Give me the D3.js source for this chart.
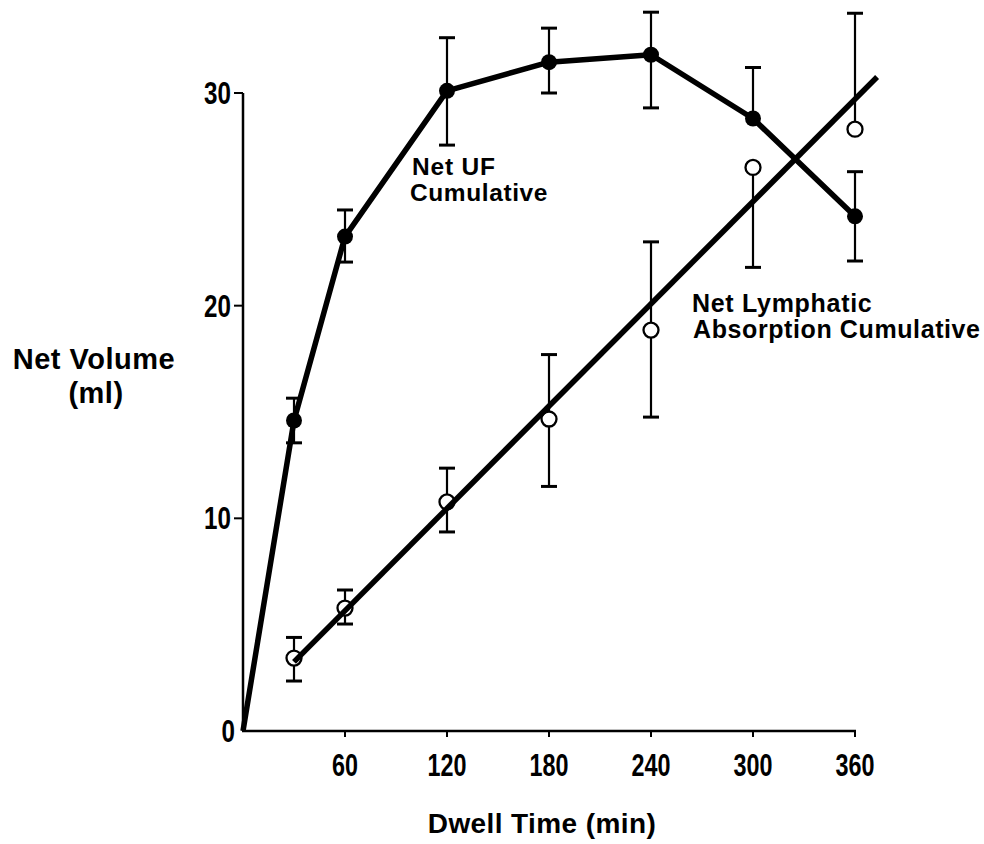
<!DOCTYPE html>
<html>
<head>
<meta charset="utf-8">
<script src="https://cdn.jsdelivr.net/npm/d3@7/dist/d3.min.js"></script>
<style>
  html, body { margin: 0; padding: 0; background: #fff; }
  svg { display: block; }
  text { font-family: "Liberation Sans", Arial, Helvetica, sans-serif; font-weight: bold; fill: #000; }
</style>
</head>
<body>
<svg id="chart" width="984" height="844"></svg>
<script>
// ---- data ----
const times = [30, 60, 120, 180, 240, 300, 360];
const ufMean = [14.6, 23.25, 30.1, 31.45, 31.8, 28.8, 24.2];
const ufHigh = [15.65, 24.5, 32.6, 33.05, 33.8, 31.2, 26.3];
const ufLow  = [13.55, 22.05, 27.55, 30.0, 29.3, 28.8, 22.1];
const ufOrigin = [0, 0];

const lymphMean = [3.43, 5.78, 10.77, 14.67, 18.85, 26.5, 28.3];
const lymphHigh = [4.4, 6.63, 12.36, 17.7, 23.0, 26.5, 33.75];
const lymphLow  = [2.35, 5.03, 9.36, 11.5, 14.76, 21.8, 28.3];
const lymphFitX = [30, 373];
const lymphFitY = [3.25, 30.75];

const xTicks = [60, 120, 180, 240, 300, 360];
const yTicks = [0, 10, 20, 30];

// ---- scales ----
const svg = d3.select("#chart");
const x = d3.scaleLinear().domain([0, 360]).range([243, 855]);
const y = d3.scaleLinear().domain([0, 30]).range([731, 93]);

// condensed text helper
function condText(g, tx, ty, str, size, anchor, sx) {
  g.append("text")
    .attr("transform", `translate(${tx},${ty}) scale(${sx},1)`)
    .attr("text-anchor", anchor)
    .attr("font-size", size)
    .text(str);
}

// ---- axes ----
const axes = svg.append("g");
axes.append("line")
  .attr("x1", x(0)).attr("x2", x(0))
  .attr("y1", y(0)).attr("y2", y(30))
  .attr("stroke", "#000").attr("stroke-width", 2.5);
axes.append("line")
  .attr("x1", x(0) - 1).attr("x2", x(360) + 1)
  .attr("y1", y(0)).attr("y2", y(0))
  .attr("stroke", "#000").attr("stroke-width", 2.5);

// y ticks
yTicks.forEach(v => {
  if (v !== 0) {
    axes.append("line")
      .attr("x1", x(0) - 9).attr("x2", x(0))
      .attr("y1", y(v)).attr("y2", y(v))
      .attr("stroke", "#000").attr("stroke-width", 2);
  }
  condText(axes, v === 0 ? x(0) - 8 : x(0) - 12, y(v) + 11, String(v), 31, "end", 0.78);
});

// x ticks
xTicks.forEach(v => {
  axes.append("line")
    .attr("x1", x(v)).attr("x2", x(v))
    .attr("y1", y(0)).attr("y2", y(0) + 6)
    .attr("stroke", "#000").attr("stroke-width", 2);
  condText(axes, x(v), 776, String(v), 32, "middle", 0.73);
});

// axis titles
svg.append("text").attr("x", 94).attr("y", 369).attr("text-anchor", "middle")
  .attr("font-size", 29).attr("letter-spacing", 0.5).text("Net Volume");
svg.append("text").attr("x", 96).attr("y", 403).attr("text-anchor", "middle")
  .attr("font-size", 29).attr("letter-spacing", 0.5).text("(ml)");
svg.append("text").attr("x", 542).attr("y", 833).attr("text-anchor", "middle")
  .attr("font-size", 28).attr("letter-spacing", 0.4).text("Dwell Time (min)");

// ---- Net UF line ----
const line = d3.line().x(d => x(d[0])).y(d => y(d[1]));
const ufPts = [ufOrigin].concat(times.map((t, i) => [t, ufMean[i]]));
svg.append("path").datum(ufPts).attr("d", line)
  .attr("fill", "none").attr("stroke", "#000").attr("stroke-width", 5.5)
  .attr("stroke-linejoin", "round");

// ---- error bars ----
function errBars(mean, low, high) {
  const g = svg.append("g").attr("stroke", "#000");
  times.forEach((t, i) => {
    g.append("line").attr("x1", x(t)).attr("x2", x(t))
      .attr("y1", y(low[i])).attr("y2", y(high[i])).attr("stroke-width", 2.2);
    [low[i], high[i]].forEach(v => {
      if (v !== mean[i]) {
        g.append("line").attr("x1", x(t) - 8).attr("x2", x(t) + 8)
          .attr("y1", y(v)).attr("y2", y(v)).attr("stroke-width", 3);
      }
    });
  });
}
errBars(ufMean, ufLow, ufHigh);
errBars(lymphMean, lymphLow, lymphHigh);

// ---- points ----
svg.append("g").selectAll("circle").data(times).join("circle")
  .attr("cx", d => x(d)).attr("cy", (d, i) => y(ufMean[i]))
  .attr("r", 8).attr("fill", "#000");

svg.append("g").selectAll("circle").data(times).join("circle")
  .attr("cx", d => x(d)).attr("cy", (d, i) => y(lymphMean[i]))
  .attr("r", 7.5).attr("fill", "#fff").attr("stroke", "#000").attr("stroke-width", 2.3);

// ---- lymphatic regression line ----
svg.append("line")
  .attr("x1", x(lymphFitX[0])).attr("y1", y(lymphFitY[0]))
  .attr("x2", x(lymphFitX[1])).attr("y2", y(lymphFitY[1]))
  .attr("stroke", "#000").attr("stroke-width", 5.5);

// ---- annotations ----
svg.append("text").attr("x", 412).attr("y", 175).attr("font-size", 24.5).attr("letter-spacing", 0.8).text("Net UF");
svg.append("text").attr("x", 410).attr("y", 201).attr("font-size", 24.5).attr("letter-spacing", 0.6).text("Cumulative");
svg.append("text").attr("x", 692).attr("y", 312).attr("font-size", 25).attr("letter-spacing", 0.7).text("Net Lymphatic");
svg.append("text").attr("x", 693).attr("y", 338).attr("font-size", 25).attr("letter-spacing", 0.6).text("Absorption Cumulative");
</script>
</body>
</html>
